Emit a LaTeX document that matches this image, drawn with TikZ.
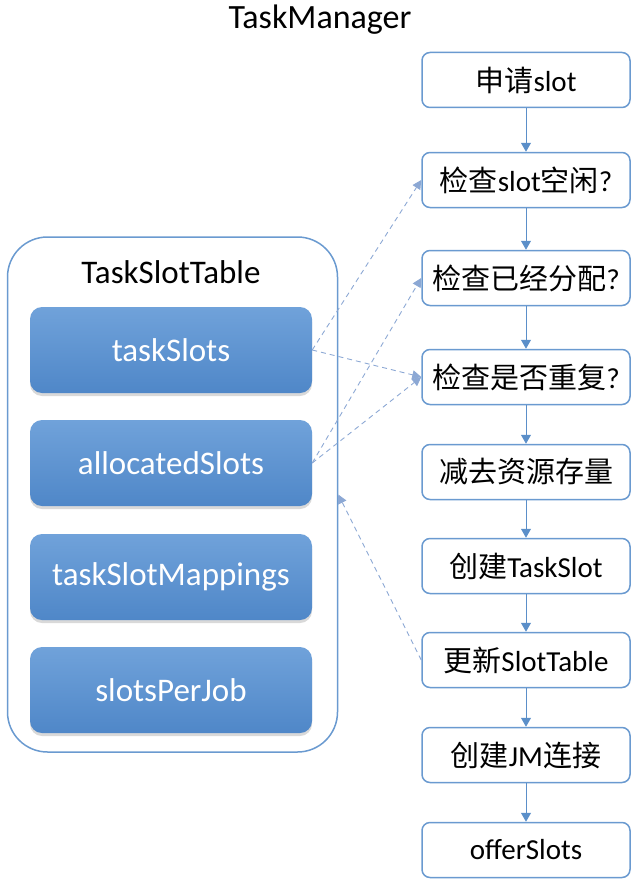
\documentclass[tikz,border=0pt]{standalone}
\usepackage{fontspec}
\setmainfont{Carlito}
\newfontfamily\cjk{Noto Sans CJK SC}
\usetikzlibrary{positioning,arrows.meta,shadows}
\definecolor{stepline}{HTML}{6A9AD0}
\definecolor{flowcol}{HTML}{5B8FC9}
\definecolor{linkcol}{HTML}{8CA8D4}
\definecolor{fieldtop}{HTML}{70A2DA}
\definecolor{fieldbot}{HTML}{4F87C8}
\newcommand{\zh}[1]{{\cjk #1}}

\begin{document}
\begin{tikzpicture}[x=1pt, y=-1pt,
    every node/.style={font=\fontsize{29}{34}\selectfont},
    stepbox/.style={draw=stepline, line width=1.5pt, rounded corners=8pt, fill=white,
      minimum width=208pt, minimum height=55pt},
    fieldbox/.style={rounded corners=12pt, minimum width=282pt, minimum height=86pt,
      top color=fieldtop, bottom color=fieldbot, text=white,
      drop shadow={shadow xshift=0pt, shadow yshift=-3pt, opacity=.3},
      font=\fontsize{33}{38}\selectfont},
    flow/.style={draw=flowcol, line width=1pt, -{Triangle[width=10pt,length=9pt]}},
    link/.style={draw=linkcol, line width=0.9pt, dash pattern=on 5pt off 4pt,
      -{Triangle[width=9pt,length=9pt]}}]
      \useasboundingbox (0,0) rectangle (634,880);
      \node[font=\fontsize{34}{40}\selectfont] (tm) at (320,20) {TaskManager};
      \node[draw=stepline, line width=1.5pt, rounded corners=40pt,
        minimum width=330pt, minimum height=515pt] (tbl) at (172.5,494.5) {};
      \node[font=\fontsize{33}{38}\selectfont] (tblname) at (171,272) {TaskSlotTable};
      \node[fieldbox] (ts)  at (171,350) {taskSlots};
      \node[fieldbox] (as)  at (171,463) {allocatedSlots};
      \node[fieldbox] (tsm) at (171,577) {taskSlotMappings};
      \node[fieldbox] (spj) at (171,690) {slotsPerJob};
      \node[stepbox] (s1) at (526,80)  {\zh{申请}slot};
      \node[stepbox] (s2) at (526,180) {\zh{检查}slot\zh{空闲}?};
      \node[stepbox] (s3) at (526,278) {\zh{检查已经分配}?};
      \node[stepbox] (s4) at (526,377) {\zh{检查是否重复}?};
      \node[stepbox] (s5) at (526,472) {\zh{减去资源存量}};
      \node[stepbox] (s6) at (526,566) {\zh{创建}TaskSlot};
      \node[stepbox] (s7) at (526,660) {\zh{更新}SlotTable};
      \node[stepbox] (s8) at (526,755) {\zh{创建}JM\zh{连接}};
      \node[stepbox] (s9) at (526,850) {offerSlots};
      \draw[flow] (s1) -- (s2);
      \draw[flow] (s2) -- (s3);
      \draw[flow] (s3) -- (s4);
      \draw[flow] (s4) -- (s5);
      \draw[flow] (s5) -- (s6);
      \draw[flow] (s6) -- (s7);
      \draw[flow] (s7) -- (s8);
      \draw[flow] (s8) -- (s9);
      \draw[link] (ts.east) -- (s2.west);
      \draw[link] (ts.east) -- (s4.west);
      \draw[link] (as.east) -- (s3.west);
      \draw[link] (as.east) -- (s4.west);
      \draw[link] (s7.west) -- (tbl.east);
    \end{tikzpicture}
\end{document}
